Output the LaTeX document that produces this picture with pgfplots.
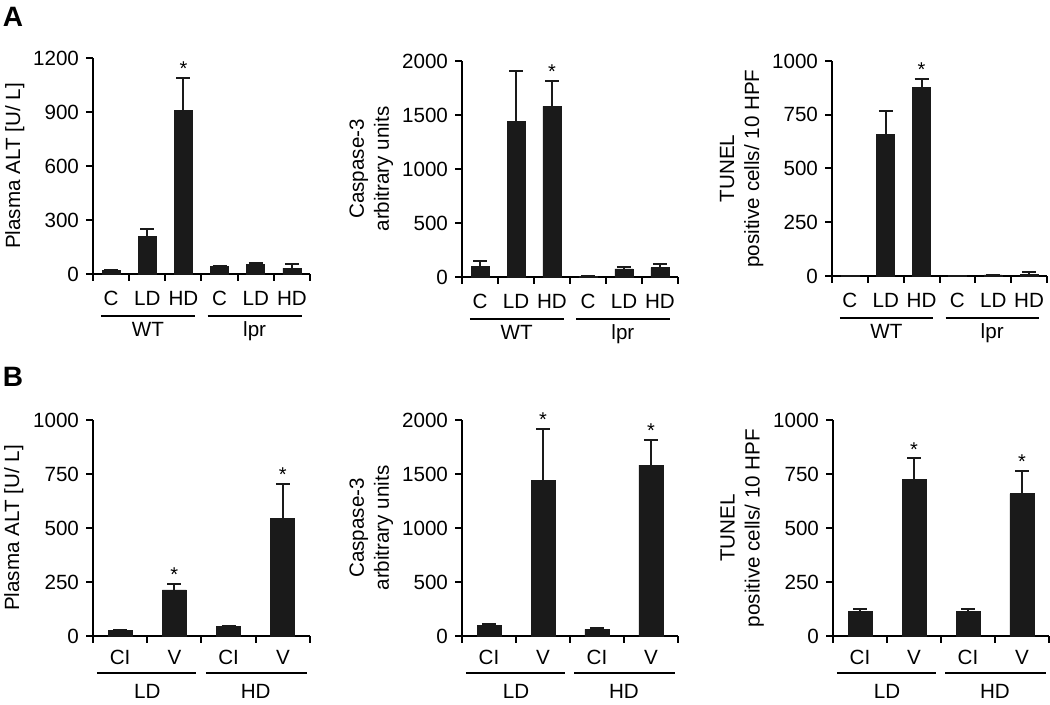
\documentclass[border=0pt]{standalone}
\usepackage{pgfplots}
\pgfplotsset{compat=1.18}
\usepackage{fontspec}
\setmainfont{Liberation Sans}

\definecolor{barc}{HTML}{1A1A1A}

\pgfplotsset{
  panel/.style={
    scale only axis,
    axis lines=left,
    axis line style={-, line width=1pt},
    tick style={black, line width=1pt},
    tick align=outside,
    major tick length=3.5pt,
    ymin=0, xmin=0.5,
    enlargelimits=false,
    clip=false,
    /pgf/number format/assume math mode=true,
    /pgf/number format/1000 sep={},
    tick label style={font=\fontsize{10.3}{12}\selectfont},
    label style={font=\fontsize{10.3}{12.5}\selectfont},
    xticklabels={},
    ylabel style={anchor=center, align=center},
  },
  panelA/.style={panel, xmax=6.5, xtick={0.5,1.5,...,6.5},
    extra x ticks={1,2,3,4,5,6},
    extra x tick labels={C,LD,HD,C,LD,HD},
    extra x tick style={major tick length=0pt, xticklabel style={anchor=base, yshift=-16pt}},
  },
  panelB/.style={panel, xmax=4.5, xtick={0.5,1.5,...,4.5},
    extra x ticks={1,2,3,4},
    extra x tick labels={CI,V,CI,V},
    extra x tick style={major tick length=0pt, xticklabel style={anchor=base, yshift=-14.5pt}},
  },
  bars/.style={ybar, fill=barc, draw=barc, bar width=#1,
    error bars/.cd, y dir=plus, y explicit,
    error bar style={line width=1pt, barc},
    error mark options={rotate=90, line width=1pt, mark size=3.5pt, barc}},
}

\newcommand{\grpA}{%
  \draw[line width=1pt] ([yshift=-21pt]axis cs:0.72,0) -- ([yshift=-21pt]axis cs:3.32,0);
  \draw[line width=1pt] ([yshift=-21pt]axis cs:3.67,0) -- ([yshift=-21pt]axis cs:6.27,0);
  \node[anchor=base, font=\fontsize{10.3}{12}\selectfont] at ([yshift=-31.5pt]axis cs:2.02,0) {WT};
  \node[anchor=base, font=\fontsize{10.3}{12}\selectfont] at ([yshift=-31.5pt]axis cs:4.97,0) {lpr};
}
\newcommand{\grpB}{%
  \draw[line width=1pt] ([yshift=-18.3pt]axis cs:0.57,0) -- ([yshift=-18.3pt]axis cs:2.40,0);
  \draw[line width=1pt] ([yshift=-18.3pt]axis cs:2.58,0) -- ([yshift=-18.3pt]axis cs:4.44,0);
  \node[anchor=base, font=\fontsize{10.3}{12}\selectfont] at ([yshift=-31.3pt]axis cs:1.5,0) {LD};
  \node[anchor=base, font=\fontsize{10.3}{12}\selectfont] at ([yshift=-31.3pt]axis cs:3.5,0) {HD};
}
\newcommand{\sigstar}[2]{\node[anchor=south, inner sep=1pt, font=\fontsize{10}{12}\selectfont] at (axis cs:#1,#2) {*};}

\begin{document}
\begin{tikzpicture}
\path[use as bounding box] (0,0) rectangle (525pt,352.5pt);

\node[font=\bfseries\fontsize{14}{16}\selectfont] at (6.5pt,344pt) {A};
\node[font=\bfseries\fontsize{14}{16}\selectfont] at (6.5pt,164pt) {B};

% ---------- A1 ----------
\begin{axis}[panelA, at={(46.5pt,215.5pt)}, anchor=south west,
  width=108.5pt, height=108pt, ymax=1200, ytick={0,300,600,900,1200},
  ylabel={Plasma ALT [U/ L]},
  ylabel style={at={(axis description cs:-0.36,0.5)}}]
\addplot[bars=9pt] coordinates {
  (1,20) +- (0,0)
  (2,209) +- (0,41)
  (3,907) +- (0,180)
  (4,42) +- (0,0)
  (5,52) +- (0,9)
  (6,33) +- (0,24)
};
\sigstar{3}{1087}
\grpA
\end{axis}

% ---------- A2 ----------
\begin{axis}[panelA, at={(231pt,214pt)}, anchor=south west,
  width=108pt, height=108pt, ymax=2000, ytick={0,500,1000,1500,2000},
  ylabel={Caspase-3\\arbitrary units},
  ylabel style={at={(axis description cs:-0.42,0.5)}}]
\addplot[bars=9pt] coordinates {
  (1,99) +- (0,49)
  (2,1444) +- (0,463)
  (3,1580) +- (0,235)
  (4,5) +- (0,0)
  (5,74) +- (0,19)
  (6,87) +- (0,37)
};
\sigstar{3}{1815}
\grpA
\end{axis}

% ---------- A3 ----------
\begin{axis}[panelA, at={(416pt,214.5pt)}, anchor=south west,
  width=107.5pt, height=107.5pt, ymax=1000, ytick={0,250,500,750,1000},
  ylabel={TUNEL\\positive cells/ 10 HPF},
  ylabel style={at={(axis description cs:-0.42,0.5)}}]
\addplot[bars=9pt] coordinates {
  (1,2) +- (0,0)
  (2,658) +- (0,110)
  (3,875) +- (0,43)
  (4,2) +- (0,0)
  (5,5) +- (0,0)
  (6,9) +- (0,8)
};
\sigstar{3}{918}
\grpA
\end{axis}

% ---------- B1 ----------
\begin{axis}[panelB, at={(46.5pt,34.5pt)}, anchor=south west,
  width=108.5pt, height=108pt, ymax=1000, ytick={0,250,500,750,1000},
  ylabel={Plasma ALT [U/ L]},
  ylabel style={at={(axis description cs:-0.365,0.5)}}]
\addplot[bars=12pt] coordinates {
  (1,26) +- (0,0)
  (2,213) +- (0,27)
  (3,45) +- (0,0)
  (4,544) +- (0,159)
};
\sigstar{2}{240}
\sigstar{4}{703}
\grpB
\end{axis}

% ---------- B2 ----------
\begin{axis}[panelB, at={(231pt,34.5pt)}, anchor=south west,
  width=108pt, height=108pt, ymax=2000, ytick={0,500,1000,1500,2000},
  ylabel={Caspase-3\\arbitrary units},
  ylabel style={at={(axis description cs:-0.42,0.5)}}]
\addplot[bars=12pt] coordinates {
  (1,99) +- (0,9)
  (2,1444) +- (0,473)
  (3,62) +- (0,12)
  (4,1583) +- (0,235)
};
\sigstar{2}{1917}
\sigstar{4}{1818}
\grpB
\end{axis}

% ---------- B3 ----------
\begin{axis}[panelB, at={(416.5pt,34.5pt)}, anchor=south west,
  width=108pt, height=108pt, ymax=1000, ytick={0,250,500,750,1000},
  ylabel={TUNEL\\positive cells/ 10 HPF},
  ylabel style={at={(axis description cs:-0.42,0.5)}}]
\addplot[bars=12pt] coordinates {
  (1,114) +- (0,11)
  (2,723) +- (0,99)
  (3,114) +- (0,11)
  (4,658) +- (0,104)
};
\sigstar{2}{822}
\sigstar{4}{762}
\grpB
\end{axis}
\end{tikzpicture}
\end{document}
